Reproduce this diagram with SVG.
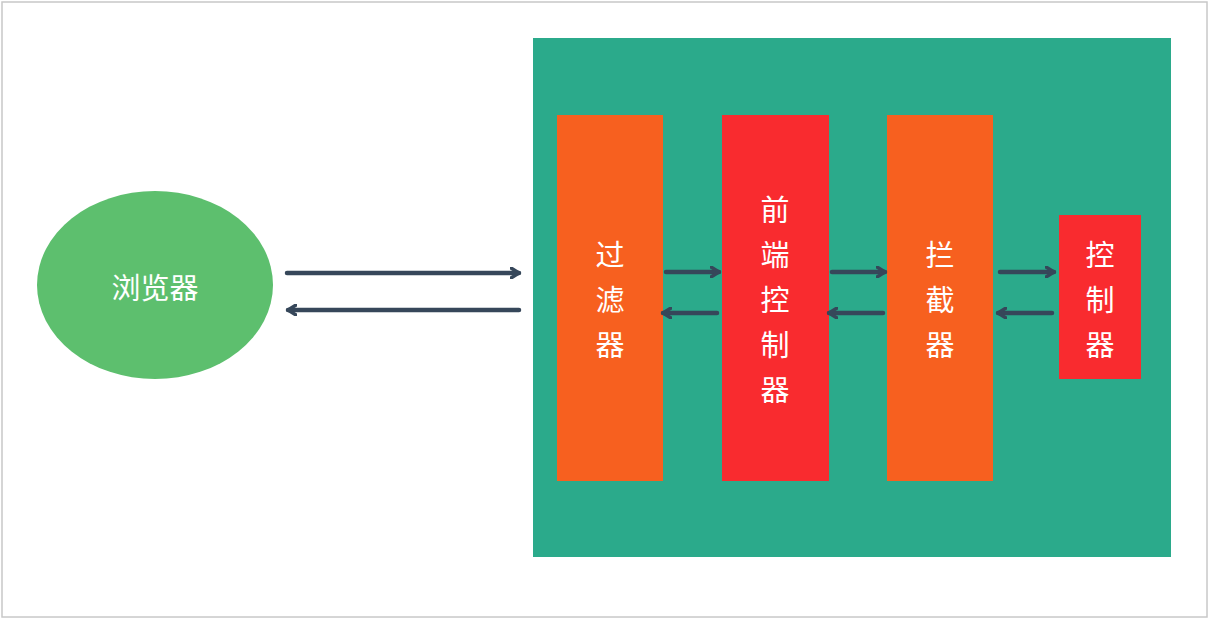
<svg xmlns="http://www.w3.org/2000/svg" width="1209" height="619" viewBox="0 0 1209 619">
<style>
.t{fill:#fff;font-family:"Noto Sans CJK SC","Noto Sans",sans-serif;font-size:29px;text-anchor:middle;dominant-baseline:central}
.c{stroke:#36475a;stroke-width:4.5;fill:none;stroke-linecap:round;stroke-linejoin:round;marker-end:url(#h)}
</style>
<defs>
<marker id="h" markerWidth="12" markerHeight="12" refX="9" refY="6" orient="auto" markerUnits="userSpaceOnUse">
<path d="M1,1 L9,6 L1,11" fill="none" stroke="#36475a" stroke-width="3.5" stroke-linecap="round" stroke-linejoin="round"/>
</marker>
</defs>
<rect x="0" y="0" width="1209" height="619" fill="#fff"/>
<rect x="2" y="2" width="1205" height="615" fill="none" stroke="#c8c8c8" stroke-width="1.5"/>
<rect x="533" y="38" width="638" height="519" fill="#2baa8b"/>
<g id="browser"><ellipse cx="155" cy="285" rx="118" ry="94" fill="#5dbf6e"/><text class="t" x="155" y="286">浏览器</text></g>
<g id="filter"><rect x="557" y="115" width="106" height="366" fill="#f7601f"/>
<text class="t" x="610" y="253">过</text><text class="t" x="610" y="298">滤</text><text class="t" x="610" y="343">器</text></g>
<g id="frontController"><rect x="722" y="115" width="107" height="366" fill="#f92b2f"/>
<text class="t" x="775" y="208">前</text><text class="t" x="775" y="253">端</text><text class="t" x="775" y="298">控</text><text class="t" x="775" y="343">制</text><text class="t" x="775" y="388">器</text></g>
<g id="interceptor"><rect x="887" y="115" width="106" height="366" fill="#f7601f"/>
<text class="t" x="940" y="253">拦</text><text class="t" x="940" y="298">截</text><text class="t" x="940" y="343">器</text></g>
<g id="controller"><rect x="1059" y="215" width="82" height="164" fill="#f92b2f"/>
<text class="t" x="1100" y="253">控</text><text class="t" x="1100" y="298">制</text><text class="t" x="1100" y="343">器</text></g>
<g id="connectors">
<path class="c" d="M287,273 H519"/>
<path class="c" d="M519,310 H288"/>
<path class="c" d="M666,272 H719"/>
<path class="c" d="M717,313 H663"/>
<path class="c" d="M832,272 H885"/>
<path class="c" d="M883,313 H829"/>
<path class="c" d="M1000,272 H1054"/>
<path class="c" d="M1052,313 H998"/>
</g>
</svg>
